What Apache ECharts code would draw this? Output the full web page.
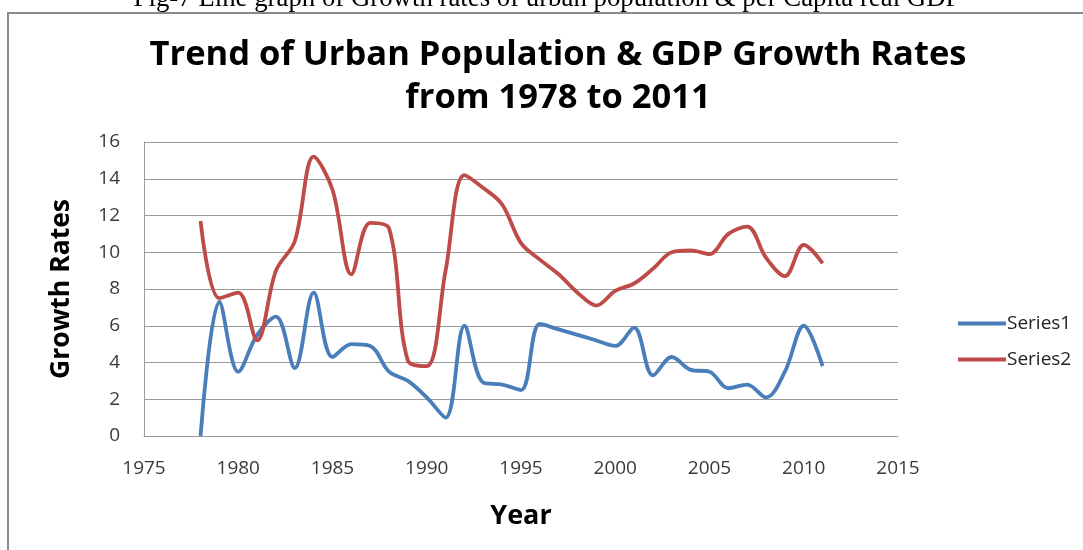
<!DOCTYPE html>
<html>
<head>
<meta charset="utf-8">
<script src="https://cdn.jsdelivr.net/npm/echarts@6/dist/echarts.min.js"></script>
<style>
  html, body { margin: 0; padding: 0; background: #fff; }
  #chart { width: 1083px; height: 550px; }
</style>
</head>
<body>
<div id="chart"></div>
<script>
// Years covered by both series
const years = [1978, 1979, 1980, 1981, 1982, 1983, 1984, 1985, 1986, 1987, 1988,
  1989, 1990, 1991, 1992, 1993, 1994, 1995, 1996, 1997, 1998, 1999, 2000,
  2001, 2002, 2003, 2004, 2005, 2006, 2007, 2008, 2009, 2010, 2011];

// Series1: urban population growth rate
const series1 = [0, 7.3, 3.5, 5.5, 6.5, 3.7, 7.8, 4.3, 5.0, 4.9, 3.5,
  3.0, 2.1, 1.0, 6.0, 2.9, 2.8, 2.5, 6.1, 5.8, 5.5, 5.2, 4.9,
  5.9, 3.3, 4.3, 3.6, 3.5, 2.6, 2.8, 2.1, 3.5, 6.0, 3.8];

// Series2: per capita real GDP growth rate
const series2 = [11.7, 7.5, 7.8, 5.2, 9.0, 10.6, 15.2, 13.4, 8.8, 11.6, 11.3,
  4.1, 3.8, 9.0, 14.2, 13.5, 12.6, 10.5, 9.6, 8.8, 7.8, 7.1, 7.9,
  8.3, 9.1, 10.0, 10.1, 9.9, 11.0, 11.4, 9.7, 8.7, 10.4, 9.4];

const seriesNames = ['Series1', 'Series2'];
const yearTicks = { min: 1975, max: 2015, interval: 5 };
const rateTicks = { min: 0, max: 16, interval: 2 };

const caption = 'Fig-7 Line graph of Growth rates of urban population & per Capita real GDP';
const titleText = 'Trend of Urban Population & GDP Growth Rates\nfrom 1978 to 2011';

const pairs = vals => years.map((y, i) => [y, vals[i]]);

const chart = echarts.init(document.getElementById('chart'), null, { renderer: 'canvas' });

const labelFont = '"Open Sans", "DejaVu Sans", sans-serif';

chart.setOption({
  animation: false,
  backgroundColor: '#ffffff',
  title: {
    text: titleText,
    left: 553,
    textAlign: 'center',
    top: 29,
    textStyle: {
      fontFamily: labelFont,
      fontWeight: 'bold',
      fontSize: 34.5,
      lineHeight: 43,
      color: '#000'
    }
  },
  graphic: [
    {
      type: 'rect',
      shape: { x: 8, y: 13, width: 1090, height: 560 },
      style: { fill: 'none', stroke: '#8a8a8a', lineWidth: 2 },
      silent: true
    },
    {
      type: 'text',
      style: {
        x: 547, y: 12,
        text: caption,
        font: '26.8px "Liberation Serif", "Times New Roman", serif',
        fill: '#000',
        textAlign: 'center',
        textVerticalAlign: 'bottom'
      }
    }
  ],
  legend: {
    orient: 'vertical',
    left: 953,
    top: 309,
    itemGap: 17,
    itemWidth: 48,
    itemHeight: 4,
    icon: 'rect',
    data: seriesNames,
    textStyle: { fontFamily: labelFont, fontSize: 19, color: '#222', padding: [0, 0, 0, -4] }
  },
  grid: { left: 144, right: 185, top: 142, bottom: 114, containLabel: false },
  xAxis: {
    type: 'value',
    min: yearTicks.min,
    max: yearTicks.max,
    interval: yearTicks.interval,
    name: 'Year',
    nameLocation: 'middle',
    nameGap: 67,
    nameTextStyle: { fontFamily: labelFont, fontWeight: 'bold', fontSize: 27, color: '#000' },
    axisLine: { show: true, lineStyle: { color: '#9a9a9a', width: 1 } },
    axisTick: { show: false },
    splitLine: { show: false },
    axisLabel: {
      margin: 23,
      fontFamily: labelFont, fontSize: 19, color: '#3a3a3a',
      formatter: v => String(v)
    }
  },
  yAxis: {
    type: 'value',
    min: rateTicks.min,
    max: rateTicks.max,
    interval: rateTicks.interval,
    name: 'Growth Rates',
    nameLocation: 'middle',
    nameGap: 69,
    nameRotate: 90,
    nameTextStyle: { fontFamily: labelFont, fontWeight: 'bold', fontSize: 26.5, color: '#000' },
    axisLine: { show: true, lineStyle: { color: '#9a9a9a', width: 1 } },
    axisTick: { show: false },
    splitLine: { show: true, lineStyle: { color: '#9a9a9a', width: 1 } },
    axisLabel: { margin: 24, fontFamily: labelFont, fontSize: 19, color: '#3a3a3a' }
  },
  series: [
    {
      name: seriesNames[0],
      type: 'line',
      data: pairs(series1),
      smooth: 0.35,
      showSymbol: false,
      lineStyle: { color: '#4A7EBB', width: 3.8 },
      itemStyle: { color: '#4A7EBB' }
    },
    {
      name: seriesNames[1],
      type: 'line',
      data: pairs(series2),
      smooth: 0.35,
      showSymbol: false,
      lineStyle: { color: '#BE4B48', width: 3.8 },
      itemStyle: { color: '#BE4B48' }
    }
  ]
});
</script>
</body>
</html>
